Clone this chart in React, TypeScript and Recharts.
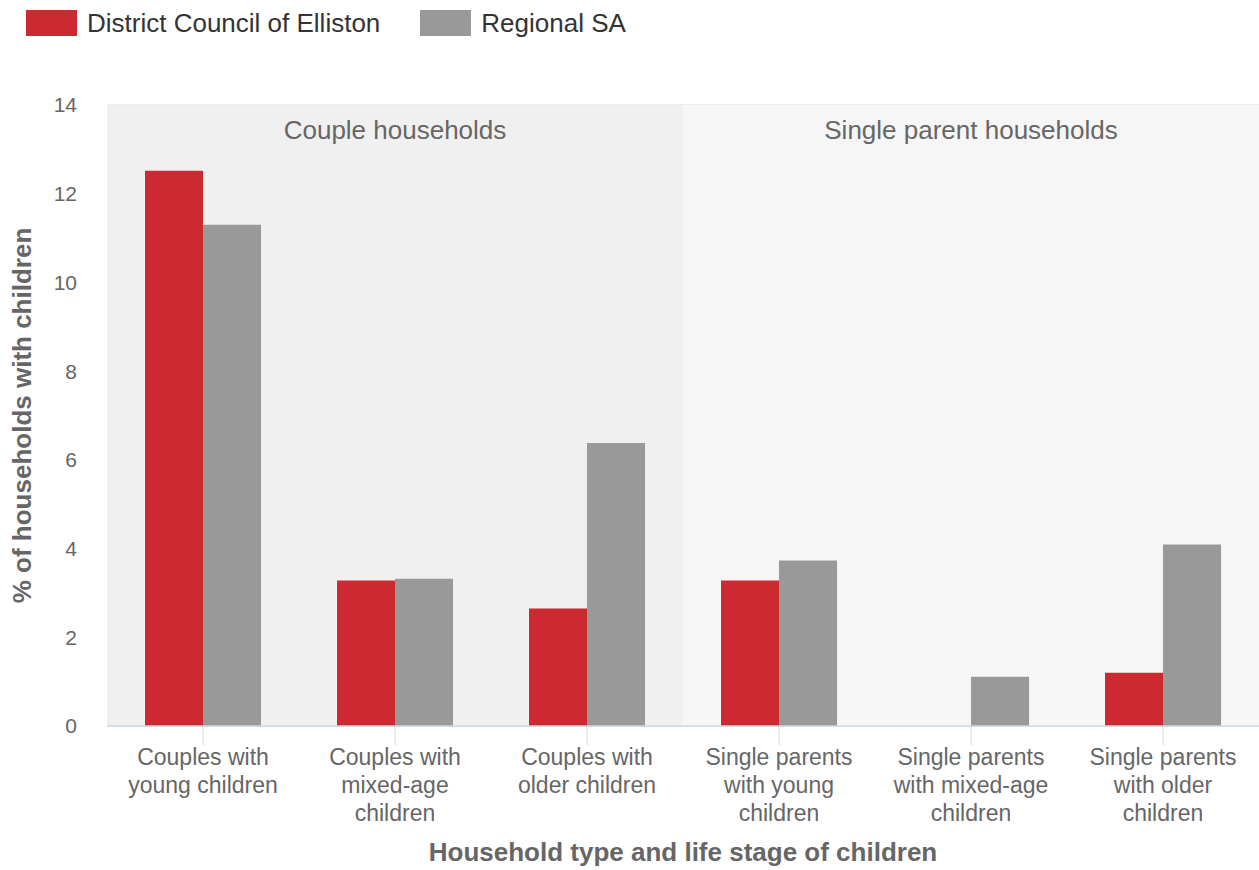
import {
  Bar,
  BarChart,
  CartesianGrid,
  ReferenceArea,
  XAxis,
  YAxis,
} from "recharts";

const categories = [
  "Couples with young children",
  "Couples with mixed-age children",
  "Couples with older children",
  "Single parents with young children",
  "Single parents with mixed-age children",
  "Single parents with older children",
];

const tickLines = [
  ["Couples with", "young children"],
  ["Couples with", "mixed-age", "children"],
  ["Couples with", "older children"],
  ["Single parents", "with young", "children"],
  ["Single parents", "with mixed-age", "children"],
  ["Single parents", "with older", "children"],
];

const elliston = [12.52, 3.28, 2.65, 3.28, 0, 1.2];
const regionalSA = [11.3, 3.32, 6.38, 3.73, 1.11, 4.09];

const yTicks = [0, 2, 4, 6, 8, 10, 12, 14];

const FONT = '"Liberation Sans", Arial, sans-serif';
const RED = "#cc2a30";
const GREY = "#999999";

const data = categories.map((name, i) => ({
  name,
  elliston: elliston[i],
  regional: regionalSA[i],
}));

function CategoryTick(props: any) {
  const { x, y, payload } = props;
  const idx = categories.indexOf(payload.value);
  const lines = tickLines[idx] || [payload.value];
  return (
    <text
      x={x}
      y={y + 18}
      textAnchor="middle"
      fill="#666666"
      fontSize={23}
      fontFamily={FONT}
    >
      {lines.map((l, i) => (
        <tspan key={i} x={x} dy={i === 0 ? 0 : 28}>
          {l}
        </tspan>
      ))}
    </text>
  );
}

function TopLegend() {
  const items = [
    { label: "District Council of Elliston", color: RED },
    { label: "Regional SA", color: GREY },
  ];
  return (
    <div
      style={{
        position: "absolute",
        top: 10,
        left: 26,
        display: "flex",
        alignItems: "center",
        fontFamily: FONT,
      }}
    >
      {items.map((it) => (
        <div
          key={it.label}
          style={{ display: "flex", alignItems: "center", marginRight: 40 }}
        >
          <span
            style={{
              display: "inline-block",
              width: 51,
              height: 26,
              background: it.color,
              marginRight: 10,
            }}
          />
          <span style={{ fontSize: 26, color: "#333333", lineHeight: "26px" }}>
            {it.label}
          </span>
        </div>
      ))}
    </div>
  );
}

export default function App() {
  return (
    <div
      style={{
        position: "absolute",
        left: 0,
        top: 0,
        width: 1259,
        height: 870,
        background: "#fff",
      }}
    >
      <TopLegend />
      <BarChart
        width={1259}
        height={870}
        data={data}
        margin={{ top: 105, right: 0, bottom: 0, left: 0 }}
        barCategoryGap="19.8%"
        barGap={0}
      >
        <ReferenceArea
          x1={categories[0]}
          x2={categories[2]}
          y1={0}
          y2={14}
          fill="#f0f0f0"
          fillOpacity={1}
          stroke="none"
          label={{
            value: "Couple households",
            position: "insideTop",
            offset: 16,
            fill: "#666666",
            fontSize: 26,
            fontFamily: FONT,
          }}
        />
        <ReferenceArea
          x1={categories[3]}
          x2={categories[5]}
          y1={0}
          y2={14}
          fill="#f6f6f6"
          fillOpacity={1}
          stroke="none"
          label={{
            value: "Single parent households",
            position: "insideTop",
            offset: 16,
            fill: "#666666",
            fontSize: 26,
            fontFamily: FONT,
          }}
        />
        <CartesianGrid vertical={false} stroke="#e6e6e6" strokeWidth={1.5} />
        <XAxis
          dataKey="name"
          interval={0}
          tick={<CategoryTick />}
          tickSize={19}
          tickLine={{ stroke: "#ccd6eb" }}
          axisLine={{ stroke: "#ccd6eb", strokeWidth: 1.5 }}
          height={144}
          label={{
            value: "Household type and life stage of children",
            position: "insideBottom",
            offset: 9,
            fill: "#666666",
            fontSize: 26,
            fontWeight: "bold",
            fontFamily: FONT,
          }}
        />
        <YAxis
          domain={[0, 14]}
          ticks={yTicks}
          width={107}
          axisLine={false}
          tickLine={false}
          tickSize={0}
          tickMargin={30}
          tick={{ fill: "#666666", fontSize: 21, fontFamily: FONT }}
          label={{
            value: "% of households with children",
            angle: -90,
            position: "insideLeft",
            offset: 22,
            style: { textAnchor: "middle" },
            fill: "#666666",
            fontSize: 26,
            fontWeight: "bold",
            fontFamily: FONT,
          }}
        />
        <Bar dataKey="elliston" fill={RED} isAnimationActive={false} />
        <Bar dataKey="regional" fill={GREY} isAnimationActive={false} />
      </BarChart>
    </div>
  );
}
